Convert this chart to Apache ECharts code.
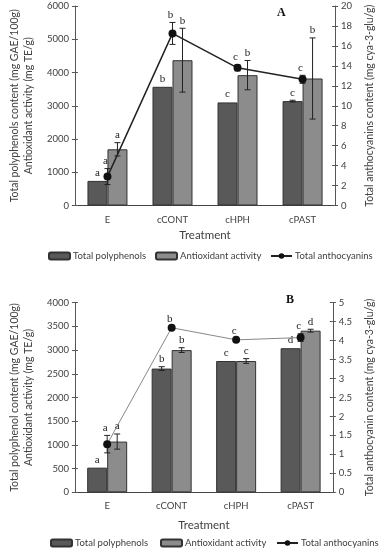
<!DOCTYPE html>
<html><head><meta charset="utf-8">
<script src="https://cdn.jsdelivr.net/npm/echarts@6/dist/echarts.min.js"></script>
<style>html,body{margin:0;padding:0;background:#fff}#c{width:385px;height:550px}</style>
</head><body><div id="c"></div>
<script>
// ---- Data ----
const categories = ['E', 'cCONT', 'cHPH', 'cPAST'];
const seriesNames = ['Total polyphenols', 'Antioxidant activity', 'Total anthocyanins'];

// Panel A
const polyA = [740, 3570, 3100, 3140];
const polyErrA = [15, 15, 15, 25];
const antioxA = [1690, 4370, 3920, 3820];
const antioxErrA = [200, 960, 440, 1220];
const anthoA = [2.9, 17.25, 13.8, 12.65];
const anthoErrA = [0.8, 1.1, 0.3, 0.4];
const polyLettersA = ['a', 'b', 'c', 'c'];
const antioxLettersA = ['a', 'b', 'b', 'b'];
const anthoLettersA = ['a', 'b', 'c', 'c'];

// Panel B
const polyB = [520, 2610, 2770, 3040];
const polyErrB = [10, 40, 10, 10];
const antioxB = [1070, 3000, 2770, 3410];
const antioxErrB = [160, 50, 50, 30];
const anthoB = [1.27, 4.34, 4.02, 4.08];
const anthoErrB = [0.23, 0.02, 0.02, 0.1];
const polyLettersB = ['a', 'b', 'c', 'd'];
const antioxLettersB = ['a', 'b', 'c', 'd'];
const anthoLettersB = ['a', 'b', 'c', 'c'];

// ---- Styles ----
const SANS = 'Lato';
const SERIF = 'Liberation Serif';
const DARK = '#595959';
const LIGHT = '#8c8c8c';
const EDGE = '#333';
const TXT = '#404040';

function errSeries(values, errs, letters, offset, xi, yi, labelDx) {
  return {
    type: 'custom', xAxisIndex: xi, yAxisIndex: yi, z: 10, silent: true,
    data: values.map((v, i) => [i, v, errs[i]]),
    renderItem: function (params, api) {
      const i = api.value(0), v = api.value(1), e = api.value(2);
      const idx = params.dataIndex;
      const c = api.coord([i, v]);
      const top = api.coord([i, v + e]);
      const bot = api.coord([i, v - e]);
      const x = c[0] + offset;
      const st = { stroke: '#222', lineWidth: 1 };
      const children = [];
      if (Math.abs(bot[1] - top[1]) > 1.5) {
        children.push({ type: 'line', shape: { x1: x, y1: top[1], x2: x, y2: bot[1] }, style: st });
        children.push({ type: 'line', shape: { x1: x - 3, y1: top[1], x2: x + 3, y2: top[1] }, style: st });
        children.push({ type: 'line', shape: { x1: x - 3, y1: bot[1], x2: x + 3, y2: bot[1] }, style: st });
      }
      children.push({ type: 'text', style: { text: letters[idx], x: x + labelDx, y: top[1] - 2, align: 'center', verticalAlign: 'bottom', font: '11px "' + SERIF + '"', fill: '#222' } });
      return { type: 'group', children: children };
    }
  };
}

function yAx(gi, pos, min, max, interval, name, gap) {
  return {
    type: 'value', gridIndex: gi, position: pos, min: min, max: max, interval: interval,
    splitLine: { show: false },
    axisLine: { show: true, lineStyle: { color: '#555' } },
    axisTick: { show: true, length: 3, lineStyle: { color: '#555' } },
    axisLabel: { fontFamily: SANS, fontSize: 9.5, color: TXT, margin: 6, formatter: v => String(v) },
    name: name, nameLocation: 'middle', nameRotate: 90, nameGap: gap,
    nameTextStyle: { fontFamily: SANS, fontSize: 10.5, color: TXT, lineHeight: 14 }
  };
}
function yDup(gi, pos, min, max, interval) {
  return {
    type: 'value', gridIndex: gi, position: pos, min: min, max: max, interval: interval,
    splitLine: { show: false }, axisLine: { show: false }, axisLabel: { show: false },
    axisTick: { show: true, inside: true, length: 3, lineStyle: { color: '#555' } }
  };
}
function xAx(gi, gap) {
  return {
    type: 'category', gridIndex: gi, data: categories,
    axisTick: { show: false },
    axisLine: { lineStyle: { color: '#444' } },
    axisLabel: { fontFamily: SANS, fontSize: 9.5, color: TXT, margin: 9 },
    name: 'Treatment', nameLocation: 'middle', nameGap: gap,
    nameTextStyle: { fontFamily: SANS, fontSize: 11.5, color: TXT }
  };
}
function leg(name, left, top) {
  return {
    data: [name], left: left, top: top, padding: 0, itemWidth: 21, itemHeight: 7, itemGap: 0,
    selectedMode: false,
    textStyle: { fontFamily: SANS, fontSize: 9.5, color: TXT, padding: [0, 0, 0, -2] }
  };
}

const chart = echarts.init(document.getElementById('c'), null, { renderer: 'canvas' });
chart.setOption({
  animation: false,
  grid: [
    { left: 59, top: 6, width: 282, height: 199.5 },
    { left: 69, top: 302.7, width: 277, height: 189.6 }
  ],
  xAxis: [xAx(0, 24), xAx(1, 27)],
  yAxis: [
    yAx(0, 'left', 0, 6000, 1000, 'Total polyphenols content (mg GAE/100g)\nAntioxidant activity (mg TE/g)', 38),
    yAx(0, 'right', 0, 20, 2, 'Total anthocyanins content (mg cya-3-glu/g)', 22),
    yAx(1, 'left', 0, 4000, 500, 'Total polyphenol content (mg GAE/100g)\nAntioxidant activity (mg TE/g)', 38),
    yAx(1, 'right', 0, 5, 0.5, 'Total anthocyanin content (mg cya-3-glu/g)', 24),
    yDup(0, 'left', 0, 6000, 1000),
    yDup(0, 'right', 0, 20, 2),
    yDup(1, 'left', 0, 4000, 500),
    yDup(1, 'right', 0, 5, 0.5)
  ],
  legend: [
    leg(seriesNames[0], 48, 251), leg(seriesNames[1], 155, 251), leg(seriesNames[2], 270, 251),
    leg(seriesNames[0], 50, 538), leg(seriesNames[1], 160, 538), leg(seriesNames[2], 276, 538)
  ],
  title: [
    { text: 'A', left: 272, top: 2, textStyle: { fontFamily: SERIF, fontSize: 12, fontWeight: 'bold', color: '#111' } },
    { text: 'B', left: 281, top: 289, textStyle: { fontFamily: SERIF, fontSize: 12, fontWeight: 'bold', color: '#111' } }
  ],
  series: [
    { name: seriesNames[0], type: 'bar', xAxisIndex: 0, yAxisIndex: 0, data: polyA, barWidth: 20, barGap: '0%',
      itemStyle: { color: DARK, borderColor: EDGE, borderWidth: 1 } },
    { name: seriesNames[1], type: 'bar', xAxisIndex: 0, yAxisIndex: 0, data: antioxA, barWidth: 20, barGap: '0%',
      itemStyle: { color: LIGHT, borderColor: EDGE, borderWidth: 1 } },
    { name: seriesNames[2], type: 'line', xAxisIndex: 0, yAxisIndex: 1, data: anthoA, z: 12,
      symbol: 'circle', symbolSize: 8, itemStyle: { color: '#111' }, lineStyle: { color: '#222', width: 1.5 } },
    errSeries(polyA, polyErrA, polyLettersA, -10, 0, 0, 0),
    errSeries(antioxA, antioxErrA, antioxLettersA, 10, 0, 0, 0),
    errSeries(anthoA, anthoErrA, anthoLettersA, 0, 0, 1, -2),

    { name: seriesNames[0], type: 'bar', xAxisIndex: 1, yAxisIndex: 2, data: polyB, barWidth: 20, barGap: '0%',
      itemStyle: { color: DARK, borderColor: EDGE, borderWidth: 1 } },
    { name: seriesNames[1], type: 'bar', xAxisIndex: 1, yAxisIndex: 2, data: antioxB, barWidth: 20, barGap: '0%',
      itemStyle: { color: LIGHT, borderColor: EDGE, borderWidth: 1 } },
    { name: seriesNames[2], type: 'line', xAxisIndex: 1, yAxisIndex: 3, data: anthoB, z: 12,
      symbol: 'circle', symbolSize: 8, itemStyle: { color: '#111' }, lineStyle: { color: '#888', width: 1 } },
    errSeries(polyB, polyErrB, polyLettersB, -10, 1, 2, 0),
    errSeries(antioxB, antioxErrB, antioxLettersB, 10, 1, 2, 0),
    errSeries(anthoB, anthoErrB, anthoLettersB, 0, 1, 3, -2)
  ]
});
</script></body></html>
